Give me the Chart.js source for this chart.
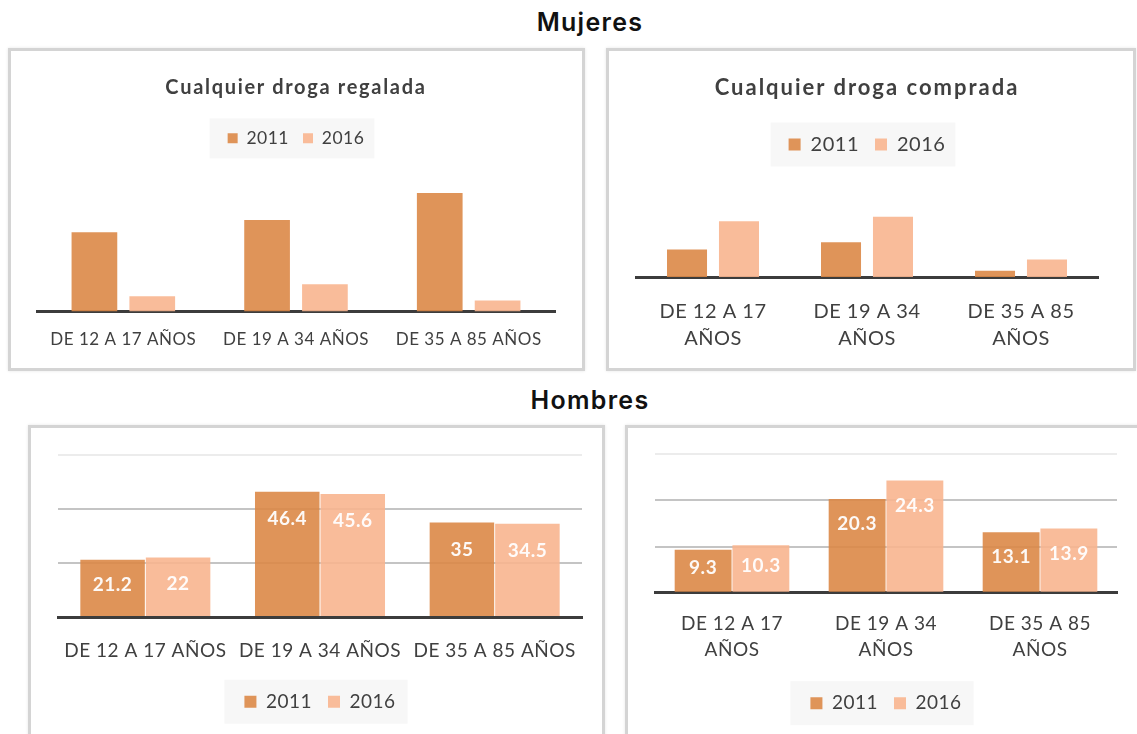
<!DOCTYPE html>
<html lang="es">
<head>
<meta charset="utf-8">
<title>Cualquier droga regalada / comprada</title>
<script src="https://cdn.jsdelivr.net/npm/chart.js@4.4.1/dist/chart.umd.min.js"></script>
<style>
  html, body { margin: 0; padding: 0; background: #fff; }
  body { width: 1137px; height: 734px; position: relative; overflow: hidden; font-family: Lato, sans-serif; }
  .seccion { position: absolute; left: 0; width: 1180px; text-align: center; font-family: Inter, sans-serif;
             font-weight: 600; font-size: 25px; color: #111; letter-spacing: 1.3px; }
  .panel { position: absolute; box-sizing: border-box; border: 3px solid #d4d4d4;
           box-shadow: 0 0 3px rgba(0,0,0,0.1); background: #fff; }
  .panel .lienzo { position: absolute; left: 0; top: 0; right: 0; }
  .titulo { position: absolute; text-align: center; font-family: Lato, sans-serif; font-weight: 700;
            color: #404040; line-height: 24px; white-space: nowrap; }
</style>
</head>
<body>
<div class="seccion" style="top:7px">Mujeres</div>
<div class="seccion" style="top:385px">Hombres</div>

<div class="panel" style="left:8px; top:48px; width:577px; height:323px">
  <div class="lienzo" style="height:317px"><canvas id="mujRegalada"></canvas></div>
  <div class="titulo" style="left:26px; width:518px; top:23px; font-size:20px; letter-spacing:1.7px">Cualquier droga regalada</div>
</div>
<div class="panel" style="left:606px; top:48px; width:530px; height:323px">
  <div class="lienzo" style="height:317px"><canvas id="mujComprada"></canvas></div>
  <div class="titulo" style="left:27px; width:462px; top:23.5px; font-size:22px; letter-spacing:2px">Cualquier droga comprada</div>
</div>
<div class="panel" style="left:28px; top:425px; width:577px; height:340px">
  <div class="lienzo" style="height:320px"><canvas id="homRegalada"></canvas></div>
</div>
<div class="panel" style="left:625px; top:425px; width:530px; height:340px">
  <div class="lienzo" style="height:320px"><canvas id="homComprada"></canvas></div>
</div>

<script>
// ---------- datos ----------
const grupos = ['DE 12 A 17 AÑOS', 'DE 19 A 34 AÑOS', 'DE 35 A 85 AÑOS'];
const gruposDosLineas = [['DE 12 A 17', 'AÑOS'], ['DE 19 A 34', 'AÑOS'], ['DE 35 A 85', 'AÑOS']];
const anios = ['2011', '2016'];

// mujeres: el original no trae etiquetas, valores leidos de la altura de las barras
const mujRegalada2011 = [25.7, 29.6, 38.4];
const mujRegalada2016 = [4.9, 8.8, 3.6];
const mujComprada2011 = [4.9, 6.2, 1.1];
const mujComprada2016 = [9.9, 10.7, 3.1];

// hombres
const homRegalada2011 = [21.2, 46.4, 35];
const homRegalada2016 = [22, 45.6, 34.5];
const homComprada2011 = [9.3, 20.3, 13.1];
const homComprada2016 = [10.3, 24.3, 13.9];

const ticksMujRegalada = [0, 50];
const ticksMujComprada = [0, 20];
const ticksHomRegalada = [0, 20, 40, 60];
const ticksHomComprada = [0, 10, 20, 30];

// ---------- estilos ----------
const COLOR_2011 = 'rgba(219,136,71,0.9)';
const COLOR_2016 = 'rgba(248,181,143,0.9)';
const TEXTO = '#404040';
const EJE = '#3c3c3c';

// espaciado de letras en el canvas (el original se ve algo estirado)
const espaciado = {
  id: 'espaciado',
  beforeUpdate(chart) { chart.ctx.letterSpacing = '0.5px'; },
  beforeDraw(chart) { chart.ctx.letterSpacing = '0.5px'; }
};

// fondo gris claro detras de la leyenda
const fondoLeyenda = {
  id: 'fondoLeyenda',
  beforeDraw(chart, args, opts) {
    const cajas = chart.legend && chart.legend.legendHitBoxes;
    if (!cajas || !cajas.length) return;
    const izq = Math.min(...cajas.map(c => c.left));
    const der = Math.max(...cajas.map(c => c.left + c.width));
    const cy = cajas[0].top + cajas[0].height / 2;
    const ctx = chart.ctx;
    ctx.save();
    ctx.fillStyle = '#f7f7f7';
    ctx.fillRect(izq - opts.izq, cy - opts.alto, der - izq + opts.izq + opts.der, opts.alto * 2);
    ctx.restore();
  }
};

// valores blancos dentro de la barra, cerca del extremo
const etiquetasValor = {
  id: 'etiquetasValor',
  afterDatasetsDraw(chart, args, opts) {
    if (!opts.mostrar) return;
    const ctx = chart.ctx;
    ctx.save();
    ctx.font = 'bold ' + opts.tam + 'px Lato';
    ctx.fillStyle = 'rgba(255,255,255,0.95)';
    ctx.textAlign = 'center';
    ctx.textBaseline = 'middle';
    chart.data.datasets.forEach((ds, i) => {
      chart.getDatasetMeta(i).data.forEach((barra, j) => {
        const alto = barra.base - barra.y;
        const dy = Math.min(opts.desplaz, alto / 2 - 3);
        ctx.fillText(String(ds.data[j]), barra.x, barra.y + dy);
      });
    });
    ctx.restore();
  }
};

function grafico(id, o) {
  return new Chart(document.getElementById(id), {
    type: 'bar',
    plugins: [espaciado, fondoLeyenda, etiquetasValor],
    data: {
      labels: o.etiquetas,
      datasets: [
        { label: anios[0], data: o.d2011, backgroundColor: COLOR_2011, borderWidth: 0,
          categoryPercentage: o.cp, barPercentage: o.bp },
        { label: anios[1], data: o.d2016, backgroundColor: COLOR_2016, borderWidth: 0,
          categoryPercentage: o.cp, barPercentage: o.bp }
      ]
    },
    options: {
      responsive: true,
      maintainAspectRatio: false,
      animation: false,
      layout: { padding: o.relleno },
      plugins: {
        title: { display: false },
        legend: {
          position: o.posLeyenda,
          labels: {
            color: TEXTO,
            boxWidth: o.caja, boxHeight: o.caja,
            padding: o.sepLeyenda,
            font: { family: 'Lato', size: o.tamLeyenda }
          }
        },
        tooltip: { enabled: false },
        fondoLeyenda: o.fondo,
        etiquetasValor: { mostrar: o.valores, tam: o.tamValor, desplaz: o.desplaz }
      },
      scales: {
        x: {
          grid: { display: false, drawTicks: false },
          border: { display: true, color: EJE, width: 3 },
          ticks: {
            color: TEXTO, maxRotation: 0, autoSkip: false, padding: o.rellenoTicks,
            font: { family: 'Lato', size: o.tamTicks, lineHeight: o.altoLinea }
          },
          afterFit(s) { s.height = o.altoEje; }
        },
        y: {
          display: o.ticks.length > 2,
          min: o.ticks[0],
          max: o.ticks[o.ticks.length - 1],
          border: { display: false },
          grid: {
            drawTicks: false,
            color: c => c.tick.value === o.ticks[0] ? 'rgba(0,0,0,0)'
                      : (c.tick.value === o.ticks[o.ticks.length - 1] ? '#ececec' : '#c4c4c4'),
            lineWidth: 2
          },
          ticks: { display: false, stepSize: o.ticks[1] - o.ticks[0] },
          afterFit(s) { s.width = 0; }
        }
      }
    }
  });
}

grafico('mujRegalada', {
  etiquetas: grupos, d2011: mujRegalada2011, d2016: mujRegalada2016, ticks: ticksMujRegalada,
  cp: 0.67, bp: 0.79,
  relleno: { left: 26, right: 27, top: 64.6, bottom: 0 },
  posLeyenda: 'top', caja: 10, sepLeyenda: 14, tamLeyenda: 17.5,
  fondo: { izq: 18, der: 10, alto: 20 },
  tamTicks: 17, altoLinea: 1.2, rellenoTicks: 18, altoEje: 56.5,
  valores: false
});

grafico('mujComprada', {
  etiquetas: gruposDosLineas, d2011: mujComprada2011, d2016: mujComprada2016, ticks: ticksMujComprada,
  cp: 0.675, bp: 0.77,
  relleno: { left: 27, right: 35, top: 67.5, bottom: 0 },
  posLeyenda: 'top', caja: 12, sepLeyenda: 16, tamLeyenda: 20,
  fondo: { izq: 18, der: 10, alto: 22 },
  tamTicks: 20, altoLinea: 1.37, rellenoTicks: 20.5, altoEje: 91,
  valores: false
});

grafico('homRegalada', {
  etiquetas: grupos, d2011: homRegalada2011, d2016: homRegalada2016, ticks: ticksHomRegalada,
  cp: 0.75, bp: 0.985,
  relleno: { left: 27, right: 20, top: 27, bottom: 26.8 },
  posLeyenda: 'bottom', caja: 12, sepLeyenda: 16, tamLeyenda: 19,
  fondo: { izq: 20, der: 12, alto: 22 },
  tamTicks: 19, altoLinea: 1.2, rellenoTicks: 22, altoEje: 59.2,
  valores: true, tamValor: 19, desplaz: 27
});

grafico('homComprada', {
  etiquetas: gruposDosLineas, d2011: homComprada2011, d2016: homComprada2016, ticks: ticksHomComprada,
  cp: 0.75, bp: 0.985,
  relleno: { left: 27, right: 35, top: 26.3, bottom: 25.3 },
  posLeyenda: 'bottom', caja: 12, sepLeyenda: 16, tamLeyenda: 19,
  fondo: { izq: 20, der: 12, alto: 22 },
  tamTicks: 19, altoLinea: 1.37, rellenoTicks: 18.5, altoEje: 85,
  valores: true, tamValor: 19, desplaz: 25
});
</script>
</body>
</html>
